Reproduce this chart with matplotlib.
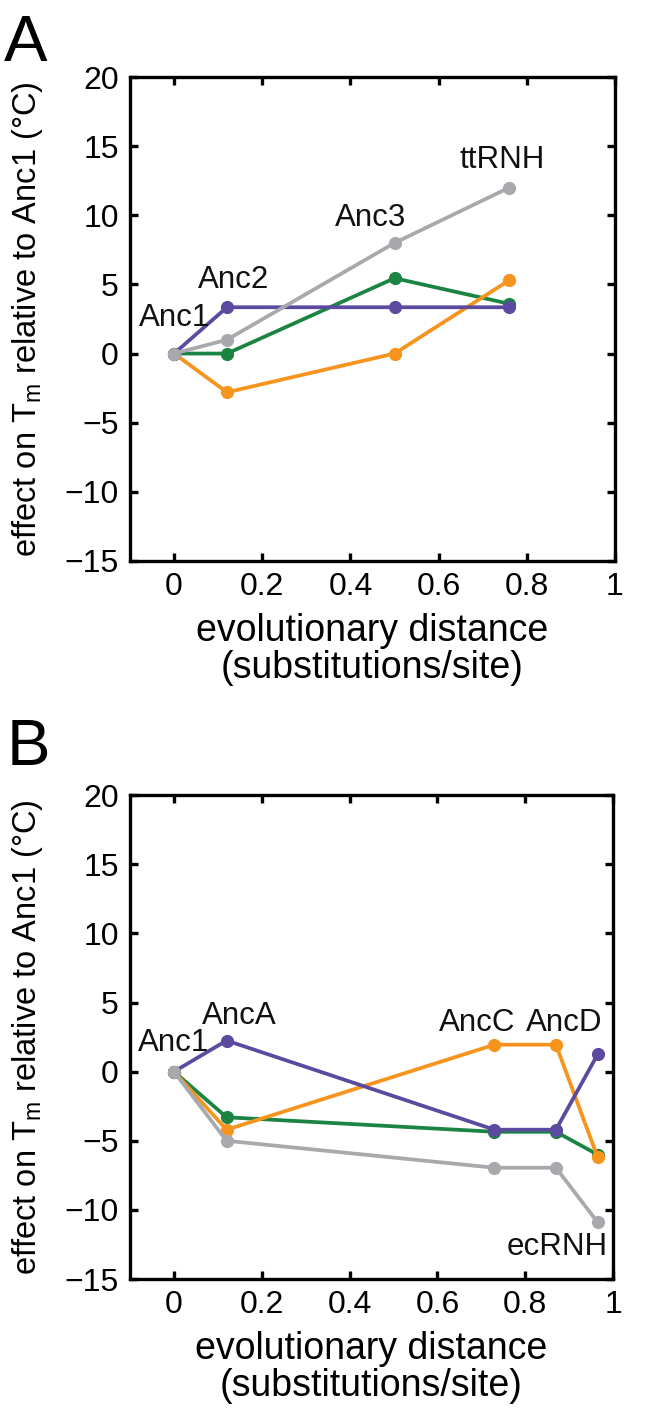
import matplotlib
matplotlib.use('Agg')
import matplotlib.pyplot as plt

plt.rcParams['font.family'] = ['Liberation Sans', 'DejaVu Sans']
plt.rcParams['mathtext.fontset'] = 'custom'
plt.rcParams['mathtext.rm'] = 'Liberation Sans'
plt.rcParams['mathtext.default'] = 'regular'

# colours of the four series
purple = '#5b4aa0'
green = '#1b8442'
orange = '#f7941d'
grey = '#a7a9ac'

# panel A: Anc1 -> Anc2 -> Anc3 -> ttRNH
dist_a = [0, 0.12, 0.5, 0.76]
green_a = [0, 0.0, 5.45, 3.6]
orange_a = [0, -2.8, 0.0, 5.3]
purple_a = [0, 3.35, 3.35, 3.35]
grey_a = [0, 1.0, 8.0, 12.0]
labels_a = ['Anc1', 'Anc2', 'Anc3', 'ttRNH']
label_pos_a = [(0.0, 2.6), (0.135, 5.3), (0.445, 9.8), (0.745, 14.0)]

# panel B: Anc1 -> AncA -> AncC -> AncD -> ecRNH
dist_b = [0, 0.12, 0.73, 0.87, 0.965]
green_b = [0, -3.3, -4.35, -4.35, -6.0]
orange_b = [0, -4.2, 1.95, 1.95, -6.2]
purple_b = [0, 2.25, -4.2, -4.2, 1.25]
grey_b = [0, -5.0, -6.95, -6.95, -10.9]
labels_b = ['Anc1', 'AncA', 'AncC', 'AncD', 'ecRNH']
label_pos_b = [(0.0, 2.1), (0.15, 4.0), (0.69, 3.5), (0.888, 3.5), (0.872, -12.7)]

xticks = [0, 0.2, 0.4, 0.6, 0.8, 1]
xticklabels = ['0', '0.2', '0.4', '0.6', '0.8', '1']
yticks = [-15, -10, -5, 0, 5, 10, 15, 20]

fig = plt.figure(figsize=(6.53, 14.13), dpi=100)
ax1 = fig.add_axes([0.1991, 0.603, 0.7427, 0.3425])
ax2 = fig.add_axes([0.1991, 0.0948, 0.7397, 0.3425])


def draw_panel(ax, x, g, o, p, gr, labels, positions):
    for ys, c in [(g, green), (o, orange), (p, purple), (gr, grey)]:
        ax.plot(x, ys, color=c, linewidth=2.7, marker='o', markersize=9.5,
                markeredgewidth=0, solid_capstyle='round')
    for lab, (tx, ty) in zip(labels, positions):
        ax.text(tx, ty, lab, fontsize=22.5, ha='center', va='center', color='#111111')
    ax.set_xlim(-0.1, 1.0)
    ax.set_ylim(-15, 20)
    ax.set_xticks(xticks)
    ax.set_xticklabels(xticklabels)
    ax.set_yticks(yticks)
    ax.tick_params(direction='in', top=True, right=True, length=6, width=2.4,
                   labelsize=23, pad=8)
    ax.tick_params(axis='x', labeltop=False)
    for s in ax.spines.values():
        s.set_linewidth(2.4)
    ax.set_xlabel('evolutionary distance\n(substitutions/site)', fontsize=27,
                  linespacing=1.02, labelpad=8)
    ax.set_ylabel('effect on T$_{m}$ relative to Anc1 (°C)', fontsize=23.5, labelpad=14)


draw_panel(ax1, dist_a, green_a, orange_a, purple_a, grey_a, labels_a, label_pos_a)
draw_panel(ax2, dist_b, green_b, orange_b, purple_b, grey_b, labels_b, label_pos_b)

fig.text(0.006, 0.99, 'A', fontsize=47, va='top', ha='left')
fig.text(0.01, 0.492, 'B', fontsize=47, va='top', ha='left')

fig.savefig('out.png', dpi=100)
